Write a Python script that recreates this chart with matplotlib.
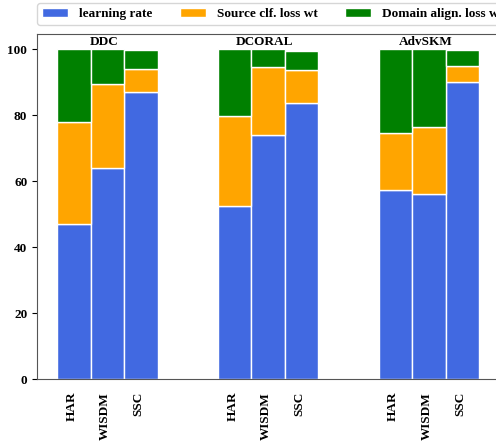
import numpy as np
import matplotlib
matplotlib.use('Agg')
import matplotlib.pyplot as plt

# hyperparameter share (%) per method and dataset
methods = ['DDC', 'DCORAL', 'AdvSKM']
datasets = ['HAR', 'WISDM', 'SSC']
lr_share = [[47.2, 64.0, 87.0],
            [52.6, 73.9, 83.6],
            [57.4, 56.2, 90.1]]
src_share = [[30.7, 25.5, 7.0],
             [27.2, 20.6, 10.1],
             [17.2, 20.2, 4.8]]
dom_share = [[22.1, 10.5, 5.7],
             [20.2, 5.5, 5.9],
             [25.4, 23.6, 4.9]]
series_names = ['learning rate', 'Source clf. loss wt', 'Domain align. loss wt']
colors = ['royalblue', 'orange', 'green']

plt.rcParams['font.family'] = 'Liberation Serif'
plt.rcParams['font.weight'] = 'bold'
plt.rcParams['font.size'] = 9.5

fig = plt.figure(figsize=(4.96, 4.41), dpi=100)
# axes run off the right edge of the figure
ax = fig.add_axes([37/496, 61.7/441, 520/496, 345.8/441])

group_gap = 4.8
width = 1.0
x_all, lab_all = [], []
for g, m in enumerate(methods):
    x = g*group_gap + np.arange(len(datasets))
    lr = np.array(lr_share[g])
    src = np.array(src_share[g])
    dom = np.array(dom_share[g])
    ax.bar(x, lr, width, color=colors[0], edgecolor='white', linewidth=1,
           label=series_names[0] if g == 0 else None)
    ax.bar(x, src, width, bottom=lr, color=colors[1], edgecolor='white', linewidth=1,
           label=series_names[1] if g == 0 else None)
    ax.bar(x, dom, width, bottom=lr+src, color=colors[2], edgecolor='white', linewidth=1,
           label=series_names[2] if g == 0 else None)
    ax.text(x.mean() - 0.1, 100.3, m, ha='center', va='bottom', fontsize=9.5, fontweight='bold')
    x_all += list(x)
    lab_all += datasets

ax.set_xticks(np.array(x_all) - 0.07)
ax.set_xticklabels(lab_all, rotation=90, fontweight='bold')
ax.tick_params(axis='x', length=0, pad=9)
ax.set_xlim(-1.1, -1.1 + 520/33.5)
ax.set_ylim(0, 104.8)
ax.set_yticks([0, 20, 40, 60, 80, 100])
for s in ['left', 'top', 'bottom']:
    ax.spines[s].set_color('#555555')
ax.spines['right'].set_visible(False)

ax.legend(loc='lower left', bbox_to_anchor=(0, 1.025), ncol=3, frameon=True,
          handlelength=2, columnspacing=2.1, borderpad=0.35, borderaxespad=0,
          prop={'family': 'Liberation Serif', 'weight': 'bold', 'size': 9.5})

fig.savefig('out.png', dpi=100)
